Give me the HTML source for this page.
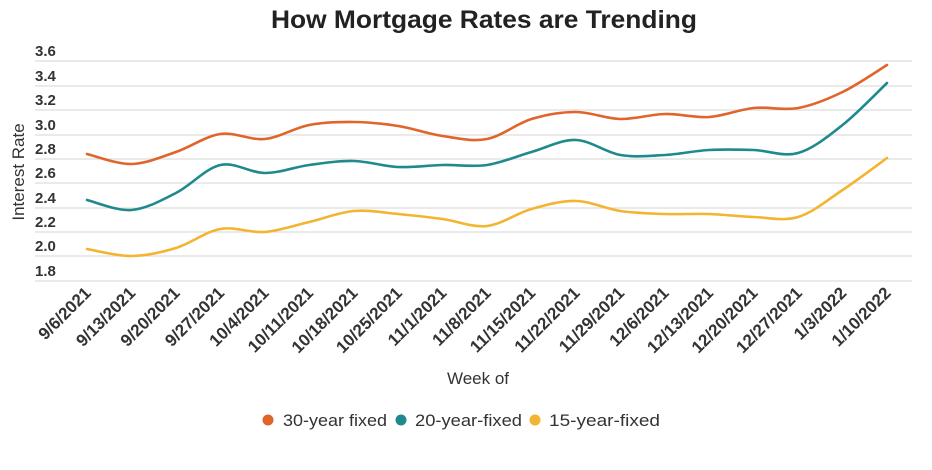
<!DOCTYPE html>
<html><head><meta charset="utf-8"><style>
html,body{margin:0;padding:0;background:#fff;}
svg{display:block;font-family:"Liberation Sans",sans-serif;}
</style></head><body>
<svg id="c" width="932" height="470" viewBox="0 0 932 470" xmlns="http://www.w3.org/2000/svg">
<text x="484" y="28" text-anchor="middle" font-size="25" font-weight="bold" fill="#222" textLength="426" lengthAdjust="spacingAndGlyphs">How Mortgage Rates are Trending</text>
<g id="grid" stroke="#dedede" stroke-width="1.3"></g>
<g id="yl" font-size="15" fill="#333" font-weight="bold"></g>
<text transform="translate(24,172) rotate(-90)" text-anchor="middle" font-size="17" fill="#333">Interest Rate</text>
<g id="series" fill="none" stroke-width="2.6" stroke-linecap="round"></g>
<g id="xl" font-size="17" fill="#333" font-weight="bold"></g>
<text x="478" y="384" text-anchor="middle" font-size="17" fill="#333">Week of</text>
<g font-size="16.5" fill="#333">
<circle cx="268" cy="420" r="5.5" fill="#e0652a"/><text x="283" y="426" textLength="104" lengthAdjust="spacingAndGlyphs">30-year fixed</text>
<circle cx="401" cy="420" r="5.5" fill="#1f8a8e"/><text x="415" y="426" textLength="107" lengthAdjust="spacingAndGlyphs">20-year-fixed</text>
<circle cx="535" cy="420" r="5.5" fill="#f2b431"/><text x="549" y="426" textLength="111" lengthAdjust="spacingAndGlyphs">15-year-fixed</text>
</g>
</svg>
<script>
var NS="http://www.w3.org/2000/svg";
function el(t,a,p,txt){var e=document.createElementNS(NS,t);for(var k in a)e.setAttribute(k,a[k]);if(txt)e.textContent=txt;document.getElementById(p).appendChild(e);}
var ys=[61,86,110,135,159,183,208,232,256,281],lab=["3.6","3.4","3.2","3.0","2.8","2.6","2.4","2.2","2.0","1.8"];
ys.forEach(function(y,i){el("line",{x1:35,x2:912,y1:y,y2:y},"grid");el("text",{x:35,y:y-5},"yl",lab[i]);});
var dates=["9/6/2021","9/13/2021","9/20/2021","9/27/2021","10/4/2021","10/11/2021","10/18/2021","10/25/2021","11/1/2021","11/8/2021","11/15/2021","11/22/2021","11/29/2021","12/6/2021","12/13/2021","12/20/2021","12/27/2021","1/3/2022","1/10/2022"];
var X=function(i){return 87+i*800/18;};
dates.forEach(function(d,i){var x=X(i)+5,y=294;el("text",{x:x,y:y,"text-anchor":"end",transform:"rotate(-45 "+x+" "+y+")"},"xl",d);});
var S=[
["#e0652a",[154,164,152,134,139,125,122,126,136,139,119,112,119,114,117,108,108,92,65]],
["#1f8a8e",[200,210,193,165,173,165,161,167,165,165,152,140,155,155,150,150,153,125,83]],
["#f2b431",[249,256,248,229,232,222,211,214,219,226,209,201,211,214,214,217,217,190,158]]];
S.forEach(function(s){var p=s[1].map(function(y,i){return [X(i),y];});var d="M"+p[0][0]+","+p[0][1];
for(var i=0;i<p.length-1;i++){var p0=p[i-1]||p[i],p1=p[i],p2=p[i+1],p3=p[i+2]||p2;
d+=" C"+(p1[0]+(p2[0]-p0[0])/6)+","+(p1[1]+(p2[1]-p0[1])/6)+" "+(p2[0]-(p3[0]-p1[0])/6)+","+(p2[1]-(p3[1]-p1[1])/6)+" "+p2[0]+","+p2[1];}
el("path",{d:d,stroke:s[0]},"series");});
</script>
</body></html>
